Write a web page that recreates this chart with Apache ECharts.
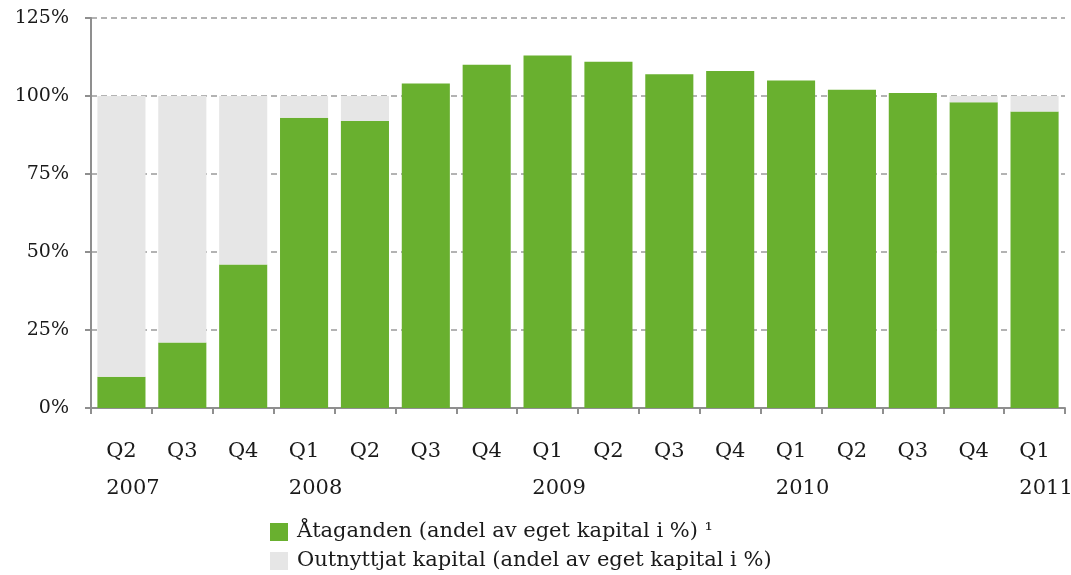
<!DOCTYPE html>
<html>
<head>
<meta charset="utf-8">
<script src="https://cdn.jsdelivr.net/npm/echarts@6/dist/echarts.min.js"></script>
<style>html,body{margin:0;padding:0;background:#fff}#c{width:1071px;height:575px}</style>
</head>
<body>
<div id="c"></div>
<script>
var quarters = ['Q2','Q3','Q4','Q1','Q2','Q3','Q4','Q1','Q2','Q3','Q4','Q1','Q2','Q3','Q4','Q1'];
var years = ['2007','','','2008','','','','2009','','','','2010','','','','2011'];
var commitments = [10, 21, 46, 93, 92, 104, 110, 113, 111, 107, 108, 105, 102, 101, 98, 95];
var yTicks = [0, 25, 50, 75, 100, 125];
var seriesNames = ['Åtaganden (andel av eget kapital i %) ¹', 'Outnyttjat kapital (andel av eget kapital i %)'];

var unused = commitments.map(function (v) { return Math.max(0, 100 - v); });
var cats = quarters.map(function (q, i) { return q + '|' + years[i]; });
var font = 'DejaVu Serif';

var chart = echarts.init(document.getElementById('c'));
chart.setOption({
  animation: false,
  textStyle: { fontFamily: font },
  grid: { left: 91, right: 6, top: 18, bottom: 167, containLabel: false, outerBoundsMode: 'none' },
  legend: {
    orient: 'vertical', left: 270, top: 521, itemGap: 7, padding: 0,
    itemWidth: 18, itemHeight: 18, icon: 'rect',
    textStyle: { fontFamily: font, fontSize: 21, lineHeight: 22, color: '#1a1a1a', padding: [0, 0, 0, 4] },
    data: seriesNames
  },
  xAxis: {
    type: 'category', data: cats,
    axisLine: { lineStyle: { color: '#8f8f8f', width: 2 } },
    axisTick: { show: true, length: 6, lineStyle: { color: '#8f8f8f', width: 2 } },
    axisLabel: {
      margin: 25, interval: 0,
      formatter: function (v) {
        var p = v.split('|');
        return p[1] ? '{q|' + p[0] + '}\n{y|' + p[1] + '}' : '{q|' + p[0] + '}';
      },
      rich: {
        q: { fontFamily: font, fontSize: 21, color: '#1a1a1a', lineHeight: 37 },
        y: { fontFamily: font, fontSize: 21, color: '#1a1a1a', lineHeight: 37, padding: [0, 0, 0, 23] }
      }
    }
  },
  yAxis: {
    type: 'value', min: 0, max: 125, interval: 25,
    axisLine: { show: true, lineStyle: { color: '#8f8f8f', width: 2 } },
    axisTick: { show: true, inside: false, length: 6, lineStyle: { color: '#8f8f8f', width: 2 } },
    splitLine: { show: true, lineStyle: { color: '#9a9a9a', width: 1.5, type: [6, 4] } },
    axisLabel: {
      margin: 22, color: '#1a1a1a', fontFamily: font, fontSize: 19,
      formatter: function (v) { return yTicks.indexOf(v) >= 0 ? v + '%' : ''; }
    }
  },
  series: [
    {
      name: seriesNames[0], type: 'bar', stack: 's', data: commitments,
      barCategoryGap: '21%', itemStyle: { color: '#69b02f' }
    },
    {
      name: seriesNames[1], type: 'bar', stack: 's', data: unused,
      itemStyle: { color: '#e6e6e6' }
    }
  ]
});
</script>
</body>
</html>
